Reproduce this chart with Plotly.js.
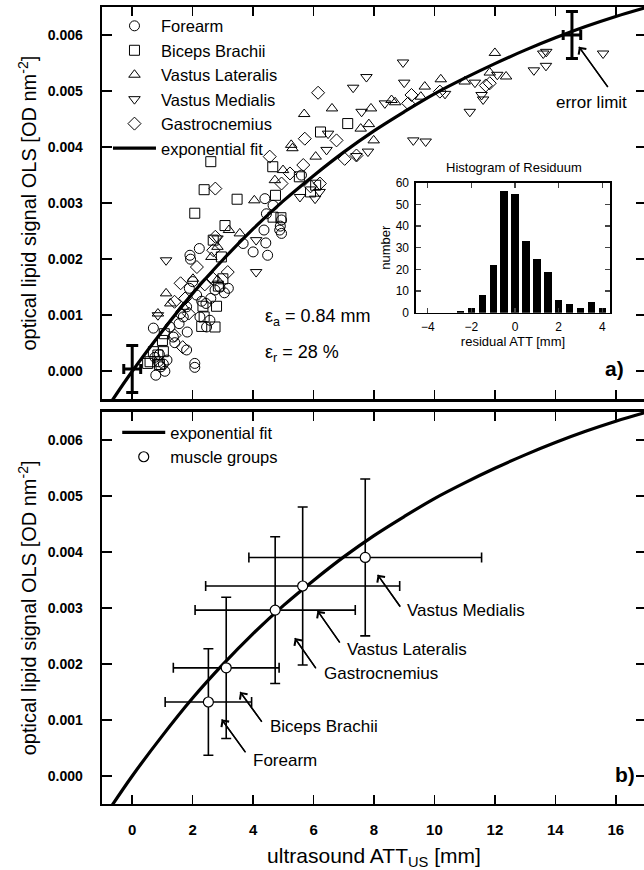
<!DOCTYPE html>
<html><head><meta charset="utf-8">
<script src="https://cdn.plot.ly/plotly-3.0.1.min.js"></script>
<style>html,body{margin:0;padding:0;overflow:hidden;background:#fff}#chart{width:650px;height:870px}</style>
</head><body><div id="chart"></div>
<script>
// ---- data (x: ultrasound ATT [mm], y: OLS [OD nm^-2]) ----
const forearm = [[0.70,0.00077],[0.78,-0.00007],[1.08,0.00000],[1.03,0.00013],[0.86,0.00017],[0.75,0.00025],[0.95,0.00008],[1.41,0.00051],[1.25,0.00079],[1.36,0.00061],[1.82,0.00070],[1.69,0.00097],[1.80,0.00115],[1.80,0.00038],[2.07,0.00014],[2.07,0.00007],[1.91,0.00207],[1.93,0.00200],[2.22,0.00219],[1.89,0.00148],[2.13,0.00136],[2.44,0.00121],[2.24,0.00097],[2.57,0.00091],[2.46,0.00079],[2.90,0.00150],[3.18,0.00148],[3.05,0.00140],[3.67,0.00228],[4.00,0.00213],[4.48,0.00207],[4.42,0.00229],[4.36,0.00252],[4.94,0.00246],[4.88,0.00252],[4.90,0.00259],[4.39,0.00308],[4.66,0.00296],[4.44,0.00281],[4.94,0.00270],[5.60,0.00350],[2.60,0.00130],[2.30,0.00125],[1.60,0.00103],[1.55,0.00085],[2.00,0.00160],[1.15,0.00020],[0.90,0.00030],[2.74,0.00145]];
const bicepsBrachii = [[2.38,0.00324],[2.60,0.00374],[2.07,0.00282],[3.47,0.00307],[3.07,0.00260],[6.23,0.00427],[7.13,0.00442],[4.92,0.00274],[4.66,0.00275],[4.74,0.00314],[5.53,0.00347],[4.65,0.00365],[6.07,0.00332],[5.90,0.00320],[2.74,0.00079],[2.38,0.00097],[2.30,0.00080],[2.34,0.00116],[2.79,0.00116],[3.00,0.00165],[1.06,0.00067],[1.00,0.00055],[0.70,0.00035],[0.59,0.00017],[0.85,0.00029],[1.03,0.00035],[0.51,0.00014],[2.68,0.00234],[2.95,0.00204],[0.90,0.00012],[2.85,0.00152]];
const vastusLateralis = [[12.00,0.00568],[9.68,0.00508],[10.21,0.00521],[11.00,0.00517],[11.83,0.00533],[12.37,0.00526],[8.58,0.00484],[7.90,0.00469],[6.61,0.00469],[5.69,0.00459],[7.56,0.00433],[7.83,0.00441],[7.99,0.00412],[6.07,0.00383],[5.26,0.00404],[5.30,0.00398],[4.72,0.00341],[4.99,0.00359],[4.04,0.00305],[3.56,0.00246],[3.20,0.00252],[2.62,0.00204],[2.82,0.00222],[1.12,0.00139],[0.85,0.00103],[1.26,0.00121],[2.82,0.00163],[2.01,0.00165],[9.55,0.00490],[8.70,0.00480],[1.70,0.00115]];
const vastusMedialis = [[15.58,0.00567],[13.60,0.00567],[13.69,0.00545],[13.29,0.00537],[11.34,0.00515],[11.56,0.00493],[11.61,0.00485],[11.17,0.00463],[12.08,0.00529],[9.71,0.00410],[9.30,0.00412],[8.96,0.00551],[7.75,0.00525],[7.31,0.00506],[9.00,0.00515],[8.36,0.00478],[7.59,0.00463],[7.80,0.00392],[7.42,0.00384],[6.43,0.00395],[6.48,0.00424],[5.55,0.00311],[6.05,0.00308],[4.10,0.00234],[4.10,0.00177],[1.12,0.00198],[0.85,0.00100],[2.82,0.00237],[13.70,0.00570],[6.20,0.00320],[10.35,0.00495]];
const gastrocnemius = [[6.15,0.00497],[9.24,0.00493],[9.13,0.00478],[10.18,0.00499],[11.83,0.00514],[11.70,0.00510],[5.71,0.00415],[4.55,0.00383],[2.75,0.00326],[6.76,0.00412],[7.03,0.00379],[7.42,0.00385],[5.66,0.00368],[5.22,0.00353],[4.94,0.00335],[2.75,0.00240],[2.68,0.00216],[2.14,0.00186],[1.60,0.00157],[1.40,0.00124],[1.67,0.00043],[1.40,0.00064],[1.87,0.00103],[2.68,0.00165],[3.16,0.00177],[6.21,0.00335],[5.90,0.00330],[1.75,0.00130],[2.40,0.00155]];

// exponential fit curve
const fitX = [-0.7,0,1,2,3,4,5,6,7,8,9,10,11,12,13,14,15,16,17];
const fitY = [-0.00055,0.0,0.00072,0.00139,0.00199,0.00254,0.00304,0.00349,0.00391,0.00429,0.00463,0.00495,0.00523,0.00549,0.00573,0.00595,0.00615,0.00633,0.00649];

// error limit markers (panel a)
const errX = [0, 14.55];
const errY = [0.00004, 0.00600];
const errDX = [0.28, 0.29];
const errDY = [0.00042, 0.00042];

// muscle group means (panel b)
const groupNames = ['Forearm','Biceps Brachii','Gastrocnemius','Vastus Lateralis','Vastus Medialis'];
const groupX = [2.52, 3.11, 4.73, 5.64, 7.71];
const groupY = [0.00132, 0.00193, 0.00296, 0.00339, 0.00390];
const groupErrX = [1.43, 1.75, 2.65, 3.21, 3.85];
const groupErrY = [0.00095, 0.00126, 0.00131, 0.00141, 0.00140];

// histogram of residuals (inset)
const residBins = [-4,-3.5,-3,-2.5,-2,-1.5,-1,-0.5,0,0.5,1,1.5,2,2.5,3,3.5,4];
const residCounts = [0,0,0,1,2,8,22,56,55,33,25,19,6,4,2,5,2];

const xTicks = [0,2,4,6,8,10,12,14,16];
const yTicks = [0,0.001,0.002,0.003,0.004,0.005,0.006];

// ---- build ----
const FONT = 'Arial, "Liberation Sans", sans-serif';
const col = (arr,i)=>arr.map(p=>p[i]);
function sc(name, arr, sym){
  return {type:'scatter', mode:'markers', name:name, x:col(arr,0), y:col(arr,1),
    xaxis:'x', yaxis:'y', legend:'legend',
    marker:{symbol:sym, size:10, color:'black', line:{color:'black', width:1}}};
}
const traces = [
  sc('Forearm', forearm, 'circle-open'),
  sc('Biceps Brachii', bicepsBrachii, 'square-open'),
  sc('Vastus Lateralis', vastusLateralis, 'triangle-up-open'),
  sc('Vastus Medialis', vastusMedialis, 'triangle-down-open'),
  sc('Gastrocnemius', gastrocnemius, 'diamond-open'),
  {type:'scatter', mode:'lines', name:'exponential fit', x:fitX, y:fitY, xaxis:'x', yaxis:'y', legend:'legend',
    line:{color:'black', width:3.2, shape:'spline'}},
  {type:'scatter', mode:'markers', x:errX, y:errY, xaxis:'x', yaxis:'y', showlegend:false,
    marker:{size:1, color:'black'},
    error_y:{type:'data', array:errDY, visible:true, color:'black', thickness:3, width:6},
    error_x:{type:'data', array:errDX, visible:true, color:'black', thickness:3, width:5}},
  {type:'scatter', mode:'lines', name:'exponential fit', x:fitX, y:fitY, xaxis:'x2', yaxis:'y2', legend:'legend2',
    line:{color:'black', width:3.2, shape:'spline'}},
  {type:'scatter', mode:'markers', name:'muscle groups', x:groupX, y:groupY, text:groupNames, xaxis:'x2', yaxis:'y2', legend:'legend2',
    marker:{symbol:'circle', size:10, color:'white', line:{color:'black', width:1.2}},
    error_y:{type:'data', array:groupErrY, visible:true, color:'black', thickness:1.6, width:5},
    error_x:{type:'data', array:groupErrX, visible:true, color:'black', thickness:1.6, width:5}},
  {type:'bar', x:residBins, y:residCounts, xaxis:'x3', yaxis:'y3', showlegend:false, width:0.34,
    marker:{color:'black', line:{width:0}}}
];

const tickFont = {family:FONT, size:14, color:'black', weight:'bold'};
function xax(domainAnchor, labels){
  return {range:[-1,17], tickvals:xTicks, ticks:'inside', ticklen:9, tickwidth:1.6, tickcolor:'black',
    showline:true, linewidth:2.4, linecolor:'black', mirror:'allticks', zeroline:false, showgrid:false,
    anchor:domainAnchor, showticklabels:labels, tickfont:{family:FONT, size:15, color:'black', weight:'bold'}, ticklabelstandoff:11};
}
function yax(domain, anchor){
  return {range:[-0.0005,0.0065], tickvals:yTicks, tickformat:'.3f', ticks:'inside', ticklen:10, tickwidth:1.6, tickcolor:'black',
    showline:true, linewidth:2.4, linecolor:'black', mirror:'allticks', zeroline:false, showgrid:false,
    domain:domain, anchor:anchor, tickfont:tickFont, ticklabelstandoff:14,
    title:{text:'optical lipid signal OLS [OD nm<sup>-2</sup>]', font:{family:FONT, size:20, color:'black'}, standoff:6}};
}
const insetFont = {family:FONT, size:12, color:'black'};
const ann = [];
const shapes = [];
function txt(x,y,xref,yref,t,size,opts){
  ann.push(Object.assign({x:x,y:y,xref:xref,yref:yref,text:t,showarrow:false,xanchor:'left',yanchor:'middle',
    font:{family:FONT,size:size,color:'black'}},opts||{}));
}
function arrow(hx,hy,tx,ty,xr,yr){
  ann.push({x:hx,y:hy,ax:tx,ay:ty,xref:xr,yref:yr,axref:xr,ayref:yr,text:'',showarrow:true,
    font:{size:1}, borderpad:0,
    arrowhead:4,arrowsize:1.3,arrowwidth:1.4,arrowcolor:'black'});
  shapes.push({type:'line', xref:xr, yref:yr, x0:tx, y0:ty, x1:hx, y1:hy, line:{color:'black', width:1.4}});
}
// panel a
txt(4.33,0.00096,'x','y','ε<sub>a</sub> = 0.84 mm',18);
txt(4.33,0.00032,'x','y','ε<sub>r</sub> = 28 %',18);
txt(16.35,0.00005,'x','y','a)',21,{xanchor:'right',font:{family:FONT,size:21,color:'black',weight:'bold'}});
txt(15.19,0.00479,'x','y','error limit',17,{xanchor:'center'});
arrow(14.78,0.00579,15.74,0.00507,'x','y');
// inset labels
txt(0.757,0.798,'paper','paper','Histogram of Residuum',13,{xanchor:'center'});
// panel b
txt(16.70,0.00003,'x2','y2','b)',21,{xanchor:'right',font:{family:FONT,size:21,color:'black',weight:'bold'}});
txt(9.04,0.00296,'x2','y2','Vastus Medialis',17);
arrow(8.12,0.00359,8.87,0.00302,'x2','y2');
txt(7.04,0.00225,'x2','y2','Vastus Lateralis',17);
arrow(6.13,0.00295,6.87,0.00238,'x2','y2');
txt(6.29,0.00183,'x2','y2','Gastrocnemius',17);
arrow(5.38,0.00246,6.08,0.00192,'x2','y2');
txt(4.50,0.00089,'x2','y2','Biceps Brachii',17);
arrow(3.57,0.00150,4.29,0.000965,'x2','y2');
txt(3.94,0.00028,'x2','y2','Forearm',17);
arrow(2.96,0.00101,3.75,0.00042,'x2','y2');

const legendFont = {family:FONT, size:16.5, color:'black'};
const layout = {
  width:650, height:870, margin:{l:102, r:4, t:7, b:66},
  paper_bgcolor:'white', plot_bgcolor:'white', font:{family:FONT, color:'black'},
  xaxis: xax('y', false),
  yaxis: yax([0.5078,1], 'x'),
  xaxis2: Object.assign(xax('y2', true), {title:{text:'ultrasound ATT<sub>US</sub> [mm]', font:{family:FONT,size:21,color:'black'}, standoff:17}}),
  yaxis2: yax([0,0.4922], 'x2'),
  xaxis3: {domain:[0.5772,0.9338], anchor:'y3', range:[-4.54,4.35], tickvals:[-4,-2,0,2,4], ticks:'inside', ticklen:5,
    tickwidth:1.3, showline:true, linewidth:1.6, linecolor:'black', mirror:'allticks', zeroline:false, showgrid:false,
    tickfont:insetFont, ticklabelstandoff:2, title:{text:'residual ATT [mm]', font:{family:FONT,size:13,color:'black'}, standoff:2}},
  yaxis3: {domain:[0.6164,0.7795], anchor:'x3', range:[0,60], tickvals:[0,10,20,30,40,50,60], ticks:'inside', ticklen:5,
    tickwidth:1.3, showline:true, linewidth:1.6, linecolor:'black', mirror:'allticks', zeroline:false, showgrid:false,
    tickfont:insetFont, ticklabelstandoff:3, title:{text:'number', font:{family:FONT,size:13,color:'black'}, standoff:2}},
  legend: {x:0.011, xanchor:'left', y:0.998, yanchor:'top', bgcolor:'rgba(0,0,0,0)', borderwidth:0,
    font:legendFont, itemwidth:43, tracegroupgap:0, traceorder:'normal'},
  legend2: {x:0.028, xanchor:'left', y:0.488, yanchor:'top', bgcolor:'rgba(0,0,0,0)', borderwidth:0,
    font:legendFont, itemwidth:43, tracegroupgap:0, traceorder:'normal'},
  bargap:0,
  annotations: ann,
  shapes: shapes,
  showlegend:true
};
Plotly.newPlot('chart', traces, layout, {staticPlot:true, displayModeBar:false});
</script></body></html>
